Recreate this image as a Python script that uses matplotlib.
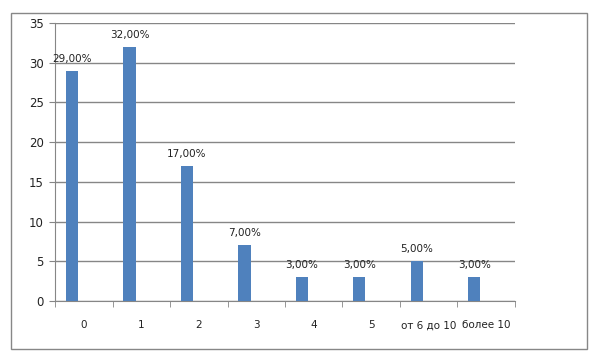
import matplotlib.pyplot as plt
import numpy as np
from matplotlib.patches import Rectangle

# Chart data
categories = ['0', '1', '2', '3', '4', '5', 'от 6 до 10', 'более 10']
values = [29, 32, 17, 7, 3, 3, 5, 3]
labels = ['29,00%', '32,00%', '17,00%', '7,00%', '3,00%', '3,00%', '5,00%', '3,00%']
yticks = [0, 5, 10, 15, 20, 25, 30, 35]

plt.rcParams['font.family'] = ['DejaVu Sans']

fig = plt.figure(figsize=(6, 3.63), dpi=100)
ax = fig.add_axes([0.0917, 0.1708, 0.7666, 0.7658])

# outer chart border
fig.patches.append(Rectangle((0.0183, 0.0386), 0.9597, 0.9256, transform=fig.transFigure,
                             fill=False, edgecolor='#878787', linewidth=1))

x = np.arange(len(categories))
bars = ax.bar(x - 0.205, values, width=0.21, color='#4F81BD', zorder=3)

for bar, lab in zip(bars, labels):
    ax.annotate(lab, (bar.get_x() + bar.get_width() / 2, bar.get_height()),
                xytext=(0, 7), textcoords='offset pixels', ha='center', va='bottom',
                fontsize=7.5, color='#222222', zorder=4)

ax.set_xlim(-0.5, len(categories) - 0.5)
ax.set_ylim(0, 35)
ax.set_yticks(yticks)
ax.yaxis.grid(True, color='#868686', linewidth=1, zorder=0)

ax.set_xticks(x)
ax.set_xticklabels(categories)
ax.set_xticks(np.arange(len(categories) + 1) - 0.5, minor=True)
ax.tick_params(axis='x', which='major', length=0, pad=14, labelsize=7.5, labelcolor='#222222')
ax.tick_params(axis='x', which='minor', length=4, color='#868686', direction='out')
ax.tick_params(axis='y', length=4, color='#868686', pad=4, labelsize=8.5, labelcolor='#222222')

for side in ['top', 'right']:
    ax.spines[side].set_visible(False)
for side in ['left', 'bottom']:
    ax.spines[side].set_color('#868686')

plt.savefig('out.png', dpi=100)
